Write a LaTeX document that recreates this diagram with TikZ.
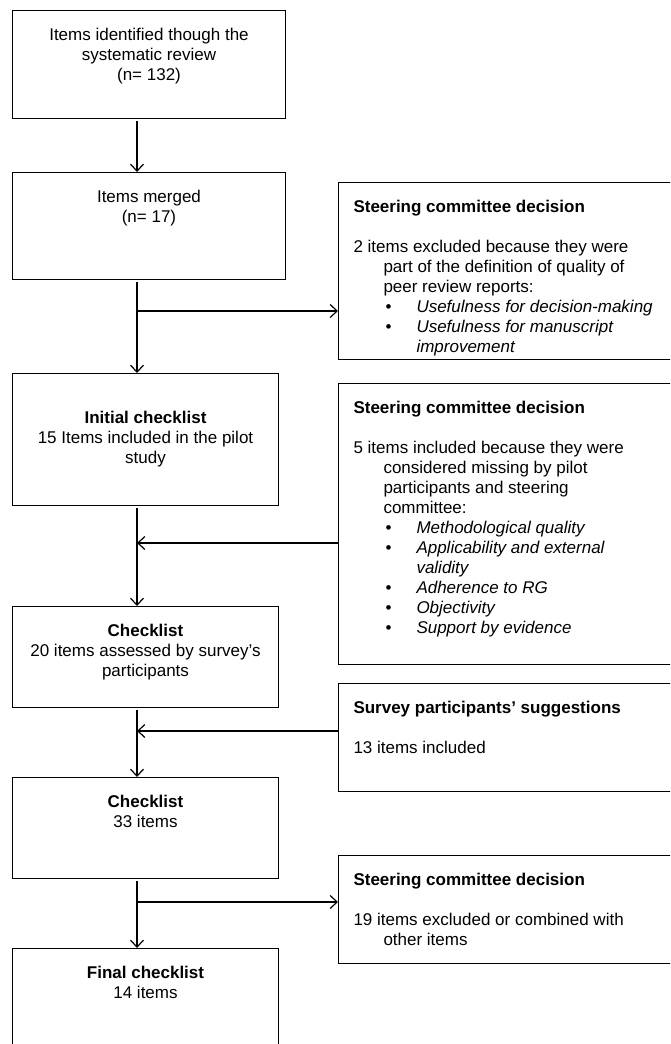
\documentclass[tikz,border=0pt]{standalone}
\usepackage{fontspec}
\setmainfont{Liberation Sans}
\usetikzlibrary{arrows.meta,positioning}
\tikzset{
    lbox/.style={draw, line width=1pt, inner sep=0pt, anchor=north west},
    arr/.style={-{Straight Barb[length=7pt,width=13pt]}, line width=1.2pt, shorten <=2pt},
    every node/.style={font=\fontsize{17}{20}\selectfont},
}
% centred text of a box on the left: width, height, lines
\newcommand{\ctext}[3]{\parbox[t][#2][t]{#1}{\centering\rule{0pt}{30pt}#3}}
% text of a box on the right: height, title, body
\newcommand{\rtext}[3]{\parbox[t][#1][t]{345pt}{\leftskip=15pt\rule{0pt}{30pt}\textbf{#2}\par\vskip20pt #3}}
\newcommand{\bitem}[1]{\par\hangindent=63pt\hangafter=0\leavevmode\llap{\textbullet\hskip25pt}\textit{#1}}
\newcommand{\hang}{\hangindent=30pt\hangafter=1 }
\begin{document}
\begin{tikzpicture}[x=1pt,y=-1pt]
    \useasboundingbox (0,0) rectangle (670,1044);
    \clip (0,0) rectangle (670,1044);
    % main column
    \node[lbox] (b1) at (12,10) {\ctext{273pt}{108pt}{Items identified though the\\ systematic review\\ (n= 132)}};
    \node[lbox] (b2) at (12,172) {\ctext{273pt}{107pt}{Items merged\\ (n= 17)}};
    \node[lbox] (b3) at (12,373) {\ctext{266pt}{132pt}{\rule{0pt}{50pt}\textbf{Initial checklist}\\ 15 Items included in the pilot\\ study}};
    \node[lbox] (b4) at (12,606) {\ctext{266pt}{101pt}{\textbf{Checklist}\\ 20 items assessed by survey’s\\ participants}};
    \node[lbox] (b5) at (12,777) {\ctext{266pt}{101pt}{\textbf{Checklist}\\ 33 items}};
    \node[lbox] (b6) at (12,948) {\ctext{266pt}{150pt}{\textbf{Final checklist}\\ 14 items}};
    % decisions on the right
    \node[lbox] (r1) at (338,182) {\rtext{177pt}{Steering committee decision}{\hang 2 items excluded because they were\newline part of the definition of quality of\newline peer review reports:
        \bitem{Usefulness for decision-making}
        \bitem{Usefulness for manuscript\newline improvement}}};
    \node[lbox] (r2) at (338,383) {\rtext{281pt}{Steering committee decision}{\hang 5 items included because they were\newline considered missing by pilot\newline participants and steering\newline committee:
        \bitem{Methodological quality}
        \bitem{Applicability and external\newline validity}
        \bitem{Adherence to RG}
        \bitem{Objectivity}
        \bitem{Support by evidence}}};
    \node[lbox] (r3) at (338,683) {\rtext{108pt}{Survey participants’ suggestions}{13 items included}};
    \node[lbox] (r4) at (338,855) {\rtext{108pt}{Steering committee decision}{\hang 19 items excluded or combined with\newline other items}};
    % connectors
    \coordinate (spine) at (137,0);
    \coordinate (j1) at (137,311);
    \coordinate (j2) at (137,543);
    \coordinate (j3) at (137,731);
    \coordinate (j4) at (137,902);
    \draw[arr] (b1.south -| spine) -- (b2.north -| spine);
    \draw[arr] (b2.south -| spine) -- (b3.north -| spine);
    \draw[arr, shorten <=0pt] (j1) -- (j1 -| r1.west);
    \draw[arr] (b3.south -| spine) -- (b4.north -| spine);
    \draw[arr, shorten <=0pt] (j2 -| r2.west) -- (j2);
    \draw[arr] (b4.south -| spine) -- (b5.north -| spine);
    \draw[arr, shorten <=0pt] (j3 -| r3.west) -- (j3);
    \draw[arr] (b5.south -| spine) -- (b6.north -| spine);
    \draw[arr, shorten <=0pt] (j4) -- (j4 -| r4.west);
\end{tikzpicture}
\end{document}
